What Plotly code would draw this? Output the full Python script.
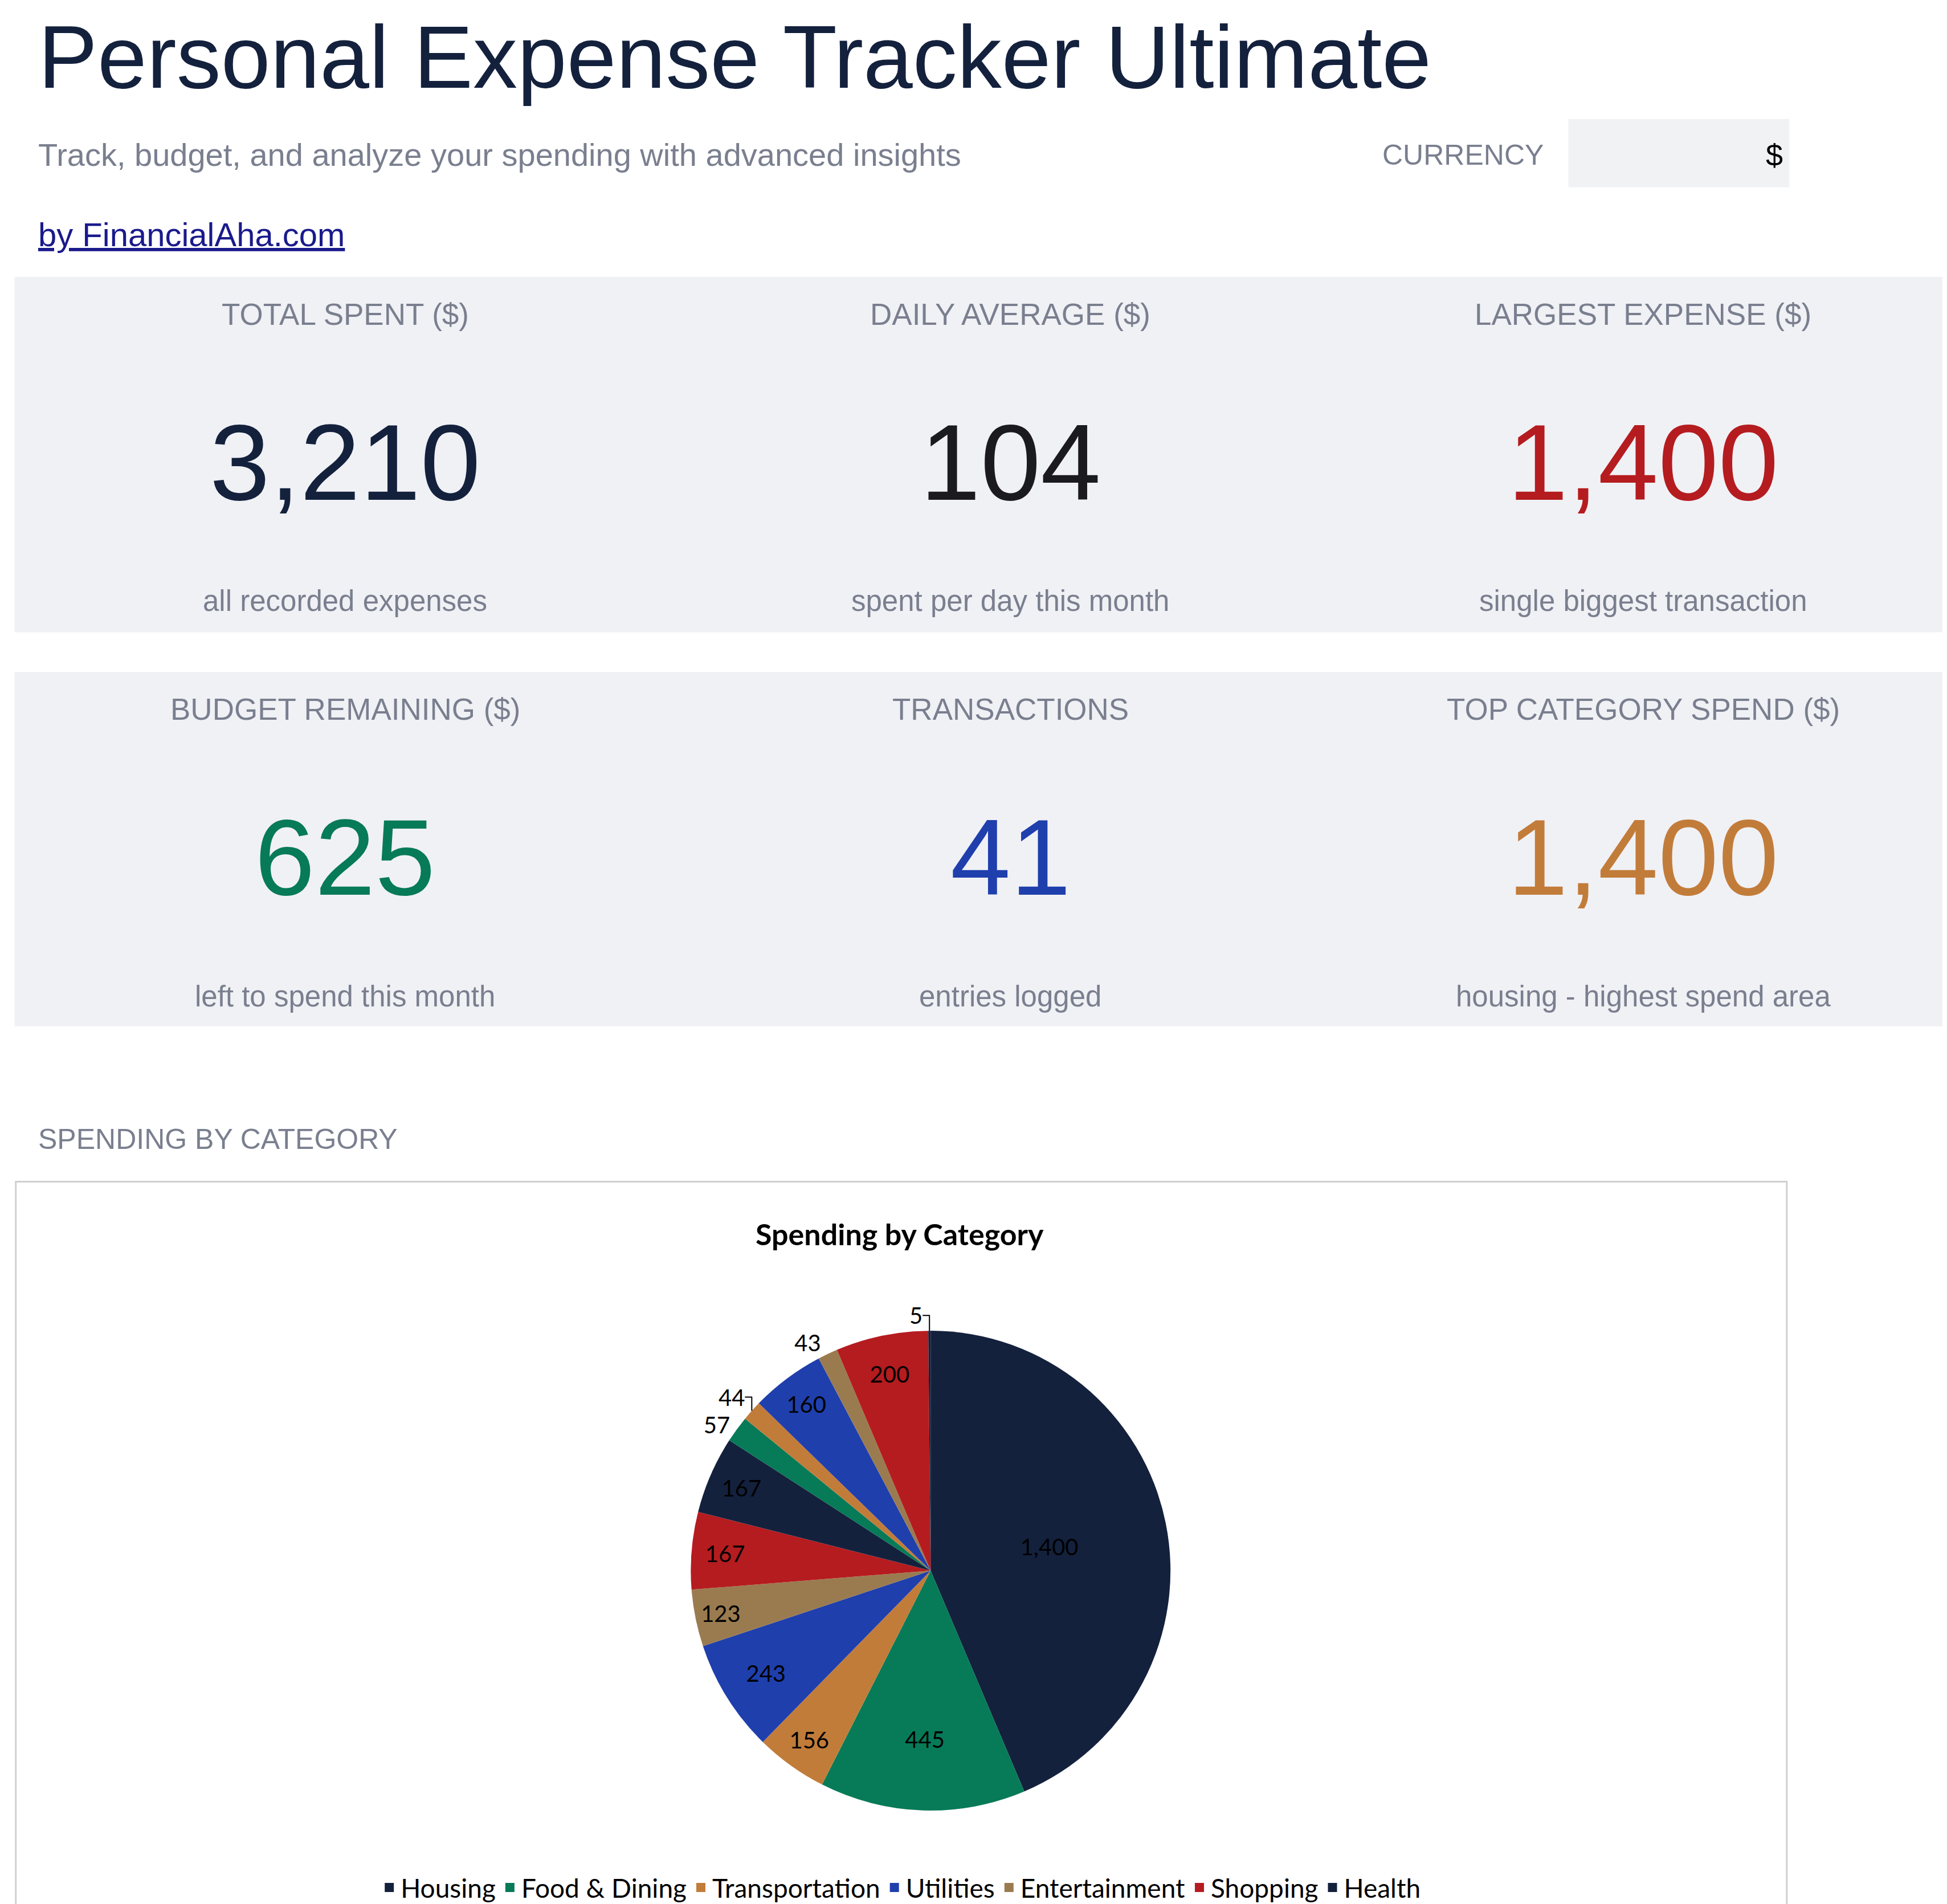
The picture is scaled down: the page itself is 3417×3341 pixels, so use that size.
import plotly.graph_objects as go

# data
categories = ["Housing", "Food & Dining", "Transportation", "Utilities", "Entertainment",
              "Shopping", "Health", "Groceries", "Fuel", "Internet", "Movies", "Clothing", "Medicine"]
amounts = [1400, 445, 156, 243, 123, 167, 167, 57, 44, 160, 43, 200, 5]
slice_colors = ["#14213d", "#077a57", "#c27c3a", "#1f3fad", "#9a7b50", "#b51c1f", "#14213d",
                "#077a57", "#c27c3a", "#1f3fad", "#9a7b50", "#b51c1f", "#14213d"]
legend_count = 7  # only the first row of the legend is visible

kpi_titles = ["TOTAL SPENT ($)", "DAILY AVERAGE ($)", "LARGEST EXPENSE ($)",
              "BUDGET REMAINING ($)", "TRANSACTIONS", "TOP CATEGORY SPEND ($)"]
kpi_values = ["3,210", "104", "1,400", "625", "41", "1,400"]
kpi_notes = ["all recorded expenses", "spent per day this month", "single biggest transaction",
             "left to spend this month", "entries logged", "housing - highest spend area"]
kpi_colors = ["#14213d", "#1b1b1f", "#b51c1f", "#077a57", "#1f3fad", "#c27c3a"]

W, H = 3417, 3341
DW, DH = 1560, 1525  # layout measured on a 1560x1525 view


def px(x):
    return x / DW


def py(y):
    return 1 - y / DH


FONT = "Liberation Sans, Arial, sans-serif"
GRAY = "#7a7f8f"

fig = go.Figure()

fig.add_trace(go.Pie(
    labels=categories, values=amounts, sort=False, direction="clockwise", rotation=0,
    marker=dict(colors=slice_colors, line=dict(width=0)),
    texttemplate="%{value:,}", textposition="auto",
    textfont=dict(family="Lato, sans-serif", size=40, color="black"),
    insidetextorientation="horizontal",
    domain=dict(x=[px(549), px(935)], y=[py(1453), py(1067)]),
    hoverinfo="label+value", showlegend=False,
))

# legend entries
for name, col in zip(categories[:legend_count], slice_colors[:legend_count]):
    fig.add_trace(go.Scatter(x=[None], y=[None], mode="markers", name=name,
                             marker=dict(symbol="square", size=26, color=col)))

shapes = []
ann = []


def text(x, y, s, size, color, xanchor="left", family=FONT, **kw):
    ann.append(dict(x=px(x), y=py(y), xref="paper", yref="paper", text=s, showarrow=False,
                    xanchor=xanchor, yanchor="middle",
                    font=dict(family=family, size=size, color=color), **kw))


text(26, 42, "Personal Expense Tracker Ultimate", 156, "#14213d")
text(26, 121, "Track, budget, and analyze your spending with advanced insights", 56, GRAY)
text(1103, 121, "CURRENCY", 50, GRAY)
shapes.append(dict(type="rect", xref="paper", yref="paper", x0=px(1253), x1=px(1430),
                   y0=py(147), y1=py(92), fillcolor="#f1f2f4", line=dict(width=0), layer="below"))
text(1426, 121, "$", 54, "black", xanchor="right")
text(26, 185, "<u>by FinancialAha.com</u>", 58, "#1a1a8c")

centers = [273, 806, 1313]
rows = [(219, 505), (537, 822)]
for r, (top, bot) in enumerate(rows):
    shapes.append(dict(type="rect", xref="paper", yref="paper", x0=px(8), x1=px(1556),
                       y0=py(bot), y1=py(top), fillcolor="#f0f1f5", line=dict(width=0), layer="below"))
    for c, cx in enumerate(centers):
        i = r * 3 + c
        text(cx, top + 30, kpi_titles[i], 53, GRAY, xanchor="center")
        text(cx, top + 149, kpi_values[i], 190, kpi_colors[i], xanchor="center")
        text(cx, top + 261, kpi_notes[i], 51, GRAY, xanchor="center")

text(26, 913, "SPENDING BY CATEGORY", 50, GRAY)
shapes.append(dict(type="rect", xref="paper", yref="paper", x0=px(9), x1=px(1428),
                   y0=py(1560), y1=py(947), fillcolor="white",
                   line=dict(color="#d0d0d0", width=3), layer="below"))
text(717, 989, "<b>Spending by Category</b>", 52, "black", xanchor="center", family="Lato, sans-serif")

fig.update_layout(
    width=W, height=H, margin=dict(l=0, r=0, t=0, b=0),
    paper_bgcolor="white", plot_bgcolor="white",
    shapes=shapes, annotations=ann,
    xaxis=dict(visible=False), yaxis=dict(visible=False),
    showlegend=True,
    legend=dict(orientation="h", x=px(718), xanchor="center", y=py(1515), yanchor="middle",
                font=dict(family="Lato, sans-serif", size=46, color="black"),
                itemwidth=30, traceorder="normal", bgcolor="rgba(0,0,0,0)"),
)

fig.write_html("out.html")
